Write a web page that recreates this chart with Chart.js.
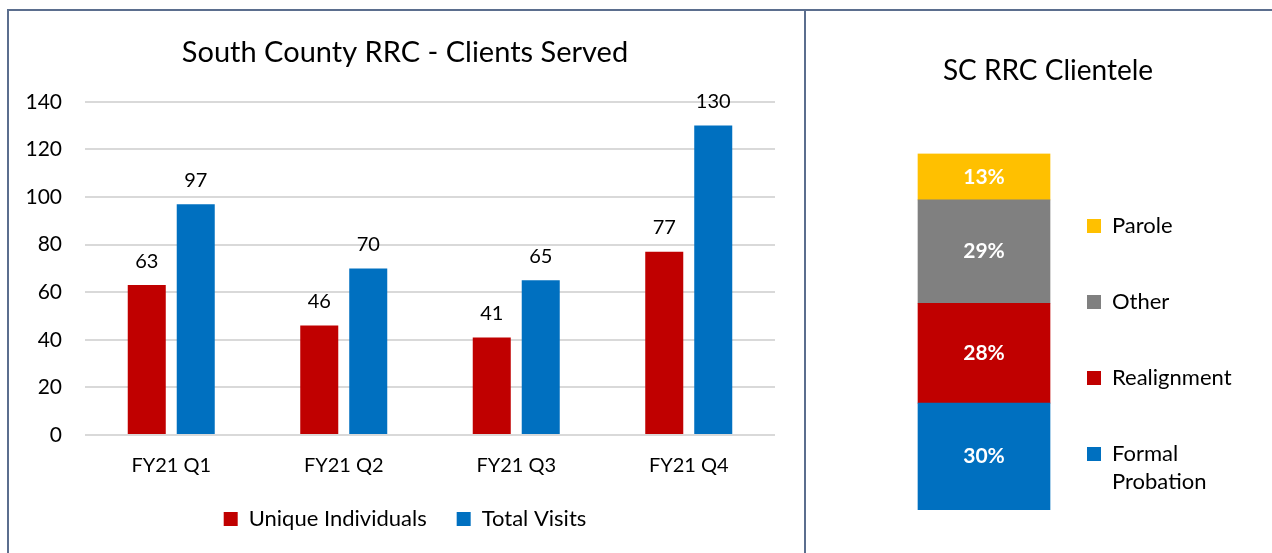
<!DOCTYPE html>
<html>
<head>
<meta charset="utf-8">
<script src="https://cdn.jsdelivr.net/npm/chart.js@4.4.1/dist/chart.umd.min.js"></script>
<style>
  html, body { margin: 0; padding: 0; background: #fff; }
  body { width: 1272px; height: 553px; position: relative; overflow: hidden; }
  canvas { position: absolute; top: 0; }
  #served { left: 0; }
  #clientele { left: 807px; }
  .rule { position: absolute; background: #5b6e8e; }
</style>
</head>
<body>
<div class="rule" style="left:8px;top:9px;width:1264px;height:2px"></div>
<div class="rule" style="left:7px;top:9px;width:2px;height:544px"></div>
<div class="rule" style="left:804px;top:9px;width:2px;height:544px"></div>
<canvas id="served" width="805" height="553"></canvas>
<canvas id="clientele" width="465" height="553"></canvas>
<script>
// left chart: clients served per quarter
const quarters = ['FY21 Q1', 'FY21 Q2', 'FY21 Q3', 'FY21 Q4'];
const uniqueIndividuals = [63, 46, 41, 77];
const totalVisits = [97, 70, 65, 130];
const visitTicks = [0, 20, 40, 60, 80, 100, 120, 140];

// right chart: clientele mix (bottom to top)
const clienteleTypes = ['Formal Probation', 'Realignment', 'Other', 'Parole'];
const clienteleShare = [30, 28, 29, 13];
const clienteleColors = ['#0070C0', '#C00000', '#808080', '#FFC000'];

const fontFamily = "Lato, 'Open Sans', sans-serif";
Chart.defaults.font.family = fontFamily;
Chart.defaults.color = '#000';
Chart.defaults.animation = false;

// draws the value of every bar, above it or in its middle
const valueLabels = {
    id: 'valueLabels',
    afterDatasetsDraw(chart, args, opts) {
        const ctx = chart.ctx;
        ctx.save();
        ctx.font = opts.font;
        ctx.fillStyle = opts.color;
        ctx.textAlign = 'center';
        ctx.textBaseline = 'middle';
        chart.data.datasets.forEach((ds, i) => {
            chart.getDatasetMeta(i).data.forEach((bar, j) => {
                const y = opts.inside ? (bar.y + bar.base) / 2 : bar.y - opts.offset;
                ctx.fillText(ds.data[j] + opts.suffix, bar.x, y);
            });
        });
        ctx.restore();
    }
};

new Chart(document.getElementById('served'), {
    type: 'bar',
    data: {
        labels: quarters,
        datasets: [{
            label: 'Unique Individuals',
            data: uniqueIndividuals,
            backgroundColor: '#C00000'
        }, {
            label: 'Total Visits',
            data: totalVisits,
            backgroundColor: '#0070C0'
        }]
    },
    options: {
        responsive: false,
        categoryPercentage: 0.568,
        barPercentage: 0.776,
        layout: { padding: { left: 22, right: 17, top: 0, bottom: 13 } },
        plugins: {
            title: {
                display: true,
                text: 'South County RRC - Clients Served',
                font: { size: 29, weight: 'normal' },
                color: '#000',
                padding: { top: 35, bottom: 32 }
            },
            legend: {
                position: 'bottom',
                labels: {
                    boxWidth: 14,
                    boxHeight: 14,
                    padding: 30,
                    font: { size: 22 },
                    color: '#000'
                }
            },
            tooltip: { enabled: false },
            valueLabels: { font: '20px ' + fontFamily, color: '#000', offset: 24, suffix: '', inside: false }
        },
        scales: {
            x: {
                grid: { display: false, drawTicks: false },
                border: { display: false },
                ticks: { padding: 19, font: { size: 20 }, color: '#000' },
                afterFit(scale) { scale.height = 43; }
            },
            y: {
                min: visitTicks[0],
                max: visitTicks[visitTicks.length - 1],
                ticks: {
                    stepSize: visitTicks[1] - visitTicks[0],
                    padding: 23,
                    font: { size: 21 },
                    color: '#000'
                },
                grid: { color: '#d9d9d9', lineWidth: 2, drawTicks: false },
                border: { display: false },
                afterFit(scale) { scale.width = 63; }
            },
            // empty axis, only keeps the plot off the right edge
            yRight: {
                type: 'linear',
                position: 'right',
                display: true,
                grid: { display: false },
                border: { display: false },
                ticks: { display: false },
                afterFit(scale) { scale.width = 13; }
            }
        }
    },
    plugins: [valueLabels]
});

// legend column sizes, so the title, bar and legend land where the original has them
const legendFont = { size: 22, lineHeight: 28 / 22 };
const legendGap = 20;
const probe = document.createElement('canvas').getContext('2d');
probe.font = legendFont.size + 'px ' + fontFamily;
const widestWord = Math.max(...clienteleTypes.flatMap(t => t.split(' ')).map(w => probe.measureText(w).width));
const legendItemWidth = 14 + legendFont.size / 2 + widestWord;
const plotRight = 280 - legendGap;          // legend squares at x=280 of this canvas
const plotLeft = 2 * 177 - plotRight;       // bar centred at x=177
const boxRight = plotRight + legendGap + legendItemWidth + 10;
const boxLeft = 2 * 241 - boxRight;         // title centred at x=241

new Chart(document.getElementById('clientele'), {
    type: 'bar',
    data: {
        labels: ['SC RRC'],
        datasets: clienteleTypes.map((name, i) => ({
            label: name,
            data: [clienteleShare[i]],
            backgroundColor: clienteleColors[i],
            borderWidth: 0,
            barThickness: 132
        }))
    },
    options: {
        responsive: false,
        layout: { padding: { left: boxLeft, right: 465 - boxRight, top: 0, bottom: 34 } },
        plugins: {
            title: {
                display: true,
                text: 'SC RRC Clientele',
                font: { size: 28, weight: 'normal' },
                color: '#000',
                padding: { top: 54, bottom: 66 }
            },
            legend: {
                position: 'right',
                align: 'end',
                reverse: true,
                maxWidth: 400,
                labels: {
                    boxWidth: 14,
                    boxHeight: 14,
                    padding: legendGap,
                    font: legendFont,
                    color: '#000',
                    generateLabels(chart) {
                        const items = Chart.defaults.plugins.legend.labels.generateLabels(chart);
                        // two text lines per entry so the spacing matches the wrapped one
                        items.forEach(item => {
                            const words = item.text.split(' ');
                            item.text = words.length > 1 ? words : [item.text, ''];
                        });
                        return items;
                    }
                }
            },
            tooltip: { enabled: false },
            valueLabels: { font: 'bold 21px ' + fontFamily, color: '#fff', offset: 0, suffix: '%', inside: true }
        },
        scales: {
            x: {
                stacked: true,
                grid: { display: false, drawTicks: false },
                border: { display: false },
                ticks: { display: false },
                afterFit(scale) { scale.height = 9; }
            },
            y: {
                stacked: true,
                min: 0,
                max: 100,
                grid: { display: false, drawTicks: false },
                border: { display: false },
                ticks: { display: false },
                afterFit(scale) { scale.width = plotLeft - boxLeft; }
            }
        }
    },
    plugins: [valueLabels]
});
</script>
</body>
</html>
